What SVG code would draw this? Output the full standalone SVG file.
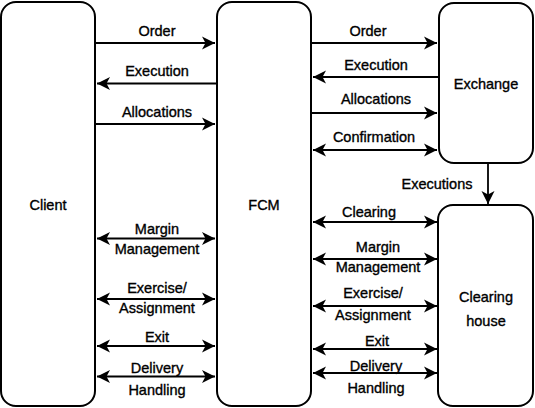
<svg xmlns="http://www.w3.org/2000/svg" width="535" height="408" viewBox="0 0 535 408">
<style>
.box{fill:#fff;stroke:#000;stroke-width:2}
text{font-family:"Liberation Sans",Arial,sans-serif;font-size:14.5px;fill:#000;stroke:#000;stroke-width:0.35;text-anchor:middle}
.ln{stroke:#000;stroke-width:1.8;fill:none}
.r{marker-end:url(#ah)}
.l{marker-start:url(#ah)}
.b{marker-start:url(#ah);marker-end:url(#ah)}
</style>
<defs>
<marker id="ah" markerUnits="userSpaceOnUse" markerWidth="16" markerHeight="16" refX="13" refY="7" orient="auto-start-reverse" viewBox="0 0 16 16">
<path d="M0,0.5 L13,7 L0,13.5 L3.5,7 Z" fill="#000"/>
</marker>
</defs>
<g id="client"><rect class="box" x="1" y="2" width="94" height="404" rx="15"/><text x="48" y="210">Client</text></g>
<g id="fcm"><rect class="box" x="217" y="2" width="94" height="404" rx="15"/><text x="264" y="210">FCM</text></g>
<g id="exchange"><rect class="box" x="439" y="3" width="94" height="160" rx="15"/><text x="486" y="89">Exchange</text></g>
<g id="clearing"><rect class="box" x="438" y="205" width="95" height="201" rx="15"/><text x="486" y="302">Clearing</text><text x="486" y="326">house</text></g>
<g id="connectors">
<line class="ln r" x1="96" y1="43" x2="215" y2="43"/><text x="157" y="36">Order</text>
<line class="ln l" x1="97" y1="83.5" x2="216" y2="83.5"/><text x="157" y="76">Execution</text>
<line class="ln r" x1="96" y1="124" x2="215" y2="124"/><text x="157" y="117">Allocations</text>
<line class="ln b" x1="97" y1="238.5" x2="215" y2="238.5"/><text x="157" y="234">Margin</text><text x="157" y="254">Management</text>
<line class="ln b" x1="97" y1="299" x2="215" y2="299"/><text x="157" y="293">Exercise/</text><text x="157" y="313">Assignment</text>
<line class="ln b" x1="97" y1="346" x2="215" y2="346"/><text x="157" y="342">Exit</text>
<line class="ln b" x1="97" y1="376.5" x2="215" y2="376.5"/><text x="157" y="373">Delivery</text><text x="157" y="395">Handling</text>
<line class="ln r" x1="312" y1="43" x2="437" y2="43"/><text x="368" y="36">Order</text>
<line class="ln l" x1="313" y1="77" x2="439" y2="77"/><text x="376" y="70">Execution</text>
<line class="ln r" x1="312" y1="113" x2="437" y2="113"/><text x="376" y="104">Allocations</text>
<line class="ln b" x1="313" y1="150" x2="437" y2="150"/><text x="374" y="142">Confirmation</text>
<line class="ln r" x1="488" y1="163" x2="488" y2="204"/><text x="437" y="189">Executions</text>
<line class="ln b" x1="313" y1="222" x2="437" y2="222"/><text x="369" y="217">Clearing</text>
<line class="ln b" x1="313" y1="259" x2="437" y2="259"/><text x="378" y="252">Margin</text><text x="378" y="272">Management</text>
<line class="ln b" x1="313" y1="306" x2="437" y2="306"/><text x="373" y="298">Exercise/</text><text x="373" y="320">Assignment</text>
<line class="ln b" x1="313" y1="349" x2="437" y2="349"/><text x="377" y="346">Exit</text>
<line class="ln b" x1="313" y1="373" x2="437" y2="373"/><text x="376" y="371">Delivery</text><text x="376" y="393">Handling</text>
</g>
</svg>
